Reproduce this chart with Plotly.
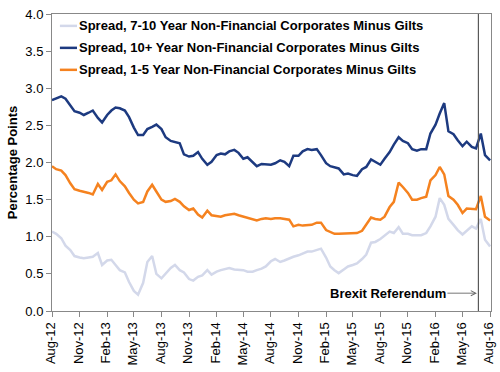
import pandas as pd
import plotly.graph_objects as go

# Semi-monthly observation dates (1st and 15th), Aug 2012 - Aug 2016
dates = pd.date_range("2012-08-01", "2016-08-01", freq="SMS")

spread_7_10 = [
    1.07, 1.04, 0.98, 0.88, 0.82, 0.74, 0.72, 0.71, 0.72, 0.73, 0.78, 0.62, 0.68, 0.69, 0.62, 0.55, 0.52, 0.39, 0.27, 0.22, 0.38, 0.66, 0.74, 0.50,
    0.44, 0.50, 0.58, 0.62, 0.55, 0.52, 0.43, 0.41, 0.46, 0.48, 0.55, 0.49, 0.53, 0.55, 0.57, 0.58, 0.56, 0.56, 0.55, 0.53, 0.53, 0.55,
    0.57, 0.60, 0.67, 0.70, 0.66, 0.68, 0.71, 0.73, 0.75, 0.77, 0.80, 0.80, 0.82, 0.84, 0.72, 0.60, 0.55, 0.51, 0.56, 0.60, 0.62, 0.64, 0.70,
    0.76, 0.92, 0.93, 0.97, 1.02, 1.07, 1.05, 1.13, 1.04, 1.04, 1.02, 1.02, 1.02, 1.05, 1.14, 1.27, 1.52, 1.43, 1.24, 1.16, 1.09, 1.03, 1.08, 1.14, 1.11, 1.24, 0.96, 0.87,
]

spread_10_plus = [
    2.84, 2.86, 2.89, 2.86, 2.77, 2.69, 2.67, 2.64, 2.67, 2.70, 2.60, 2.54, 2.64, 2.70, 2.74, 2.73, 2.70, 2.61, 2.47, 2.37, 2.37, 2.45, 2.48, 2.51,
    2.45, 2.34, 2.29, 2.28, 2.26, 2.11, 2.08, 2.09, 2.14, 2.05, 1.97, 2.01, 2.10, 2.12, 2.11, 2.15, 2.17, 2.13, 2.05, 2.07, 2.01, 1.95,
    1.98, 1.98, 1.97, 1.99, 2.03, 2.01, 1.95, 2.09, 2.09, 2.15, 2.18, 2.17, 2.18, 2.10, 1.99, 1.95, 1.94, 1.92, 1.84, 1.85, 1.83, 1.82, 1.91,
    1.94, 2.04, 2.01, 1.97, 2.05, 2.14, 2.24, 2.34, 2.29, 2.26, 2.18, 2.16, 2.18, 2.18, 2.39, 2.51, 2.66, 2.80, 2.42, 2.38, 2.30, 2.22, 2.28, 2.21, 2.19, 2.39, 2.10, 2.03,
]

spread_1_5 = [
    1.95, 1.91, 1.89, 1.83, 1.72, 1.64, 1.62, 1.61, 1.59, 1.57, 1.71, 1.63, 1.74, 1.76, 1.84, 1.75, 1.68, 1.59, 1.50, 1.45, 1.47, 1.61, 1.70, 1.61,
    1.50, 1.47, 1.48, 1.51, 1.47, 1.41, 1.36, 1.38, 1.30, 1.26, 1.35, 1.29, 1.28, 1.27, 1.29, 1.30, 1.31, 1.29, 1.27, 1.25, 1.23, 1.22,
    1.24, 1.25, 1.24, 1.25, 1.25, 1.24, 1.23, 1.14, 1.16, 1.15, 1.16, 1.16, 1.19, 1.19, 1.09, 1.06, 1.04, 1.04, 1.04, 1.05, 1.05, 1.05, 1.08,
    1.16, 1.26, 1.24, 1.23, 1.27, 1.40, 1.47, 1.73, 1.67, 1.59, 1.50, 1.50, 1.52, 1.54, 1.76, 1.83, 1.94, 1.84, 1.55, 1.50, 1.43, 1.32, 1.38, 1.38, 1.37, 1.55, 1.27, 1.22,
]

series_names = [
    "Spread, 7-10 Year Non-Financial Corporates Minus Gilts",
    "Spread, 10+ Year Non-Financial Corporates Minus Gilts",
    "Spread, 1-5 Year Non-Financial Corporates Minus Gilts",
]
series_values = [spread_7_10, spread_10_plus, spread_1_5]
series_colors = ["#D3D8EA", "#1D3A80", "#F5821F"]

brexit_date = "2016-06-23"
brexit_label = "Brexit Referendum"
y_title = "Percentage Points"

FONT = "Arial, 'Liberation Sans', sans-serif"

fig = go.Figure()
for name, vals, col in zip(series_names, series_values, series_colors):
    fig.add_trace(go.Scatter(x=dates, y=vals, mode="lines", name=name,
                             line=dict(color=col, width=2.5), showlegend=False))

# Custom legend (short sample lines + bold labels), top-left inside plot
leg_y = [0.96, 0.886, 0.812]
for name, col, yy in zip(series_names, series_colors, leg_y):
    fig.add_shape(type="line", xref="paper", yref="paper", x0=0.018, x1=0.057,
                  y0=yy, y1=yy, line=dict(color=col, width=2.5))
    fig.add_annotation(xref="paper", yref="paper", x=0.056, y=yy, text="<b>%s</b>" % name,
                       showarrow=False, xanchor="left", yanchor="middle",
                       font=dict(family=FONT, size=13, color="#000000"))

# Brexit referendum marker
fig.add_shape(type="line", xref="x", yref="paper", x0=brexit_date, x1=brexit_date,
              y0=0, y1=1, line=dict(color="#595959", width=1.2))
fig.add_annotation(x="2016-06-18", y=0.24, xref="x", yref="y", text="<b>%s</b>" % brexit_label,
                   showarrow=True, ax=-89, ay=0, arrowhead=5, arrowsize=1.1, arrowwidth=0.9,
                   arrowcolor="#666666", standoff=0,
                   font=dict(family=FONT, size=13, color="#000000"))

fig.update_layout(
    width=500, height=372, autosize=False,
    margin=dict(l=52, r=9, t=14, b=61),
    paper_bgcolor="white", plot_bgcolor="white",
    font=dict(family=FONT, size=13, color="#000000"),
)
fig.update_xaxes(
    range=["2012-08-01", "2016-08-04"], tick0="2012-08-01", dtick="M3", tickformat="%b-%y",
    tickangle=-90, ticks="outside", ticklen=5, tickcolor="#888888", ticklabelshift=-1,
    showline=True, linecolor="#888888", linewidth=1, mirror=True, showgrid=False, zeroline=False,
    automargin=False,
    tickfont=dict(family=FONT, size=13, color="#000000"),
)
fig.update_yaxes(
    range=[0, 4], dtick=0.5, tickformat=".1f", ticks="outside", ticklen=5, tickcolor="#888888",
    showline=True, linecolor="#888888", linewidth=1, mirror=True, showgrid=False, zeroline=False,
    automargin=False,
    tickfont=dict(family=FONT, size=13, color="#000000"),
    title=dict(text="<b>%s</b>" % y_title, font=dict(family=FONT, size=13, color="#000000"), standoff=4),
)

fig.write_html(
    "out.html",
    config={"displayModeBar": False},
    post_script="document.body.style.margin='0px';document.body.style.overflow='hidden';",
)
